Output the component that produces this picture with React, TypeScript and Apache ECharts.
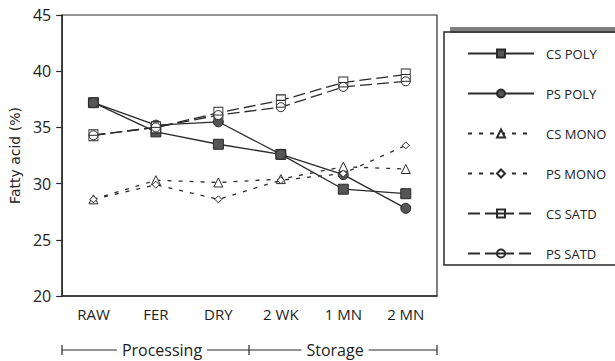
import React, { useEffect, useRef } from "react";
import * as echarts from "echarts";

const categories = ["RAW", "FER", "DRY", "2 WK", "1 MN", "2 MN"];
const csPoly = [37.2, 34.6, 33.5, 32.6, 29.5, 29.1];
const psPoly = [37.2, 35.2, 35.5, 32.6, 30.8, 27.8];
const csMono = [28.6, 30.3, 30.1, 30.4, 31.5, 31.3];
const psMono = [28.6, 29.9, 28.6, 30.3, 30.9, 33.4];
const csSatd = [34.3, 35.0, 36.3, 37.4, 39.0, 39.7];
const psSatd = [34.3, 35.0, 36.1, 36.8, 38.6, 39.1];
const seriesNames = ["CS POLY", "PS POLY", "CS MONO", "PS MONO", "CS SATD", "PS SATD"];
const yMin = 20;
const yMax = 45;
const yStep = 5;
const yAxisName = "Fatty acid (%)";
const groupLabels = ["Processing", "Storage"];

const FONT = "'Open Sans', sans-serif";
const INK = "#2a2a2a";

const sqLine = "path://M0,0H10V12H0Z M0,6H10";
const circLine = "path://M0,5A5,5 0 1,1 10,5A5,5 0 1,1 0,5Z M0,5H10";

export default function App() {
  const ref = useRef<HTMLDivElement>(null);
  useEffect(() => {
    const chart = echarts.init(ref.current!, null, { renderer: "svg" });
    const line = (type: any, width = 1.3) => ({ color: INK, width, type });
    const series: any[] = [
      {
        name: seriesNames[0], type: "line", data: csPoly, symbol: "rect", symbolSize: 10,
        lineStyle: line("solid"), itemStyle: { color: "#555", borderColor: INK, borderWidth: 1 },
      },
      {
        name: seriesNames[1], type: "line", data: psPoly, symbol: "circle", symbolSize: 10,
        lineStyle: line("solid"), itemStyle: { color: "#555", borderColor: INK, borderWidth: 1 },
      },
      {
        name: seriesNames[2], type: "line", data: csMono, symbol: "triangle", symbolSize: 9,
        lineStyle: line([4, 7]), itemStyle: { color: "#fff", borderColor: INK, borderWidth: 1 },
      },
      {
        name: seriesNames[3], type: "line", data: psMono, symbol: "diamond", symbolSize: 7,
        lineStyle: line([4, 7]), itemStyle: { color: "#fff", borderColor: INK, borderWidth: 1 },
      },
      {
        name: seriesNames[4], type: "line", data: csSatd, symbol: sqLine, symbolSize: [9, 11],
        lineStyle: line([12, 5]), itemStyle: { color: "#fff", borderColor: INK, borderWidth: 1 },
      },
      {
        name: seriesNames[5], type: "line", data: psSatd, symbol: circLine, symbolSize: [9, 9],
        lineStyle: line([12, 5]), itemStyle: { color: "#fff", borderColor: INK, borderWidth: 1 },
      },
    ];
    const gl = 62, gr = 437, gm = 249, by = 350;
    chart.setOption({
      animation: false,
      backgroundColor: "#fff",
      grid: { left: 62, right: 178, top: 15, bottom: 65, show: true, borderColor: INK, borderWidth: 1.2 },
      xAxis: {
        type: "category",
        data: categories,
        boundaryGap: true,
        axisLine: { lineStyle: { color: INK, width: 1.5 } },
        axisTick: { length: 6, lineStyle: { color: INK, width: 1.2 } },
        axisLabel: { color: "#222", fontSize: 15, fontFamily: FONT, margin: 10 },
      },
      yAxis: {
        type: "value",
        min: yMin,
        max: yMax,
        interval: yStep,
        name: yAxisName,
        nameLocation: "middle",
        nameGap: 38,
        nameTextStyle: { color: "#222", fontSize: 14, fontFamily: "'DejaVu Sans', sans-serif" },
        splitLine: { show: false },
        axisLine: { show: true, lineStyle: { color: INK, width: 1.5 } },
        axisTick: { show: true, length: 6, lineStyle: { color: INK, width: 1.2 } },
        axisLabel: { color: "#222", fontSize: 16, fontFamily: FONT, margin: 11 },
      },
      legend: {
        data: seriesNames,
        orient: "vertical",
        left: 462,
        top: 42,
        itemWidth: 66,
        itemHeight: 10,
        itemGap: 27,
        textStyle: { color: "#222", fontSize: 13, fontFamily: FONT, padding: [0, 0, 0, 7] },
      },
      graphic: [
        { type: "rect", shape: { x: 450, y: 27, width: 170, height: 6 }, style: { fill: "#808080" }, silent: true },
        { type: "rect", shape: { x: 444, y: 32, width: 180, height: 233 }, style: { fill: "none", stroke: INK, lineWidth: 1.5 }, silent: true },
        { type: "line", shape: { x1: gl, y1: by, x2: gr, y2: by }, style: { stroke: INK, lineWidth: 1.2 } },
        { type: "line", shape: { x1: gl, y1: by - 5, x2: gl, y2: by + 5 }, style: { stroke: INK, lineWidth: 1.2 } },
        { type: "line", shape: { x1: gm, y1: by - 5, x2: gm, y2: by + 5 }, style: { stroke: INK, lineWidth: 1.2 } },
        { type: "line", shape: { x1: gr, y1: by - 5, x2: gr, y2: by + 5 }, style: { stroke: INK, lineWidth: 1.2 } },
        {
          type: "text", x: 162, y: by, z: 10,
          style: { text: groupLabels[0], fill: "#222", font: `16px ${FONT}`, align: "center", verticalAlign: "middle", backgroundColor: "#fff", padding: [0, 5] },
        },
        {
          type: "text", x: 335, y: by, z: 10,
          style: { text: groupLabels[1], fill: "#222", font: `16px ${FONT}`, align: "center", verticalAlign: "middle", backgroundColor: "#fff", padding: [0, 5] },
        },
      ],
      series,
    });
    return () => chart.dispose();
  }, []);
  return <div ref={ref} style={{ width: 615, height: 361, position: "absolute", left: 0, top: 0 }} />;
}
